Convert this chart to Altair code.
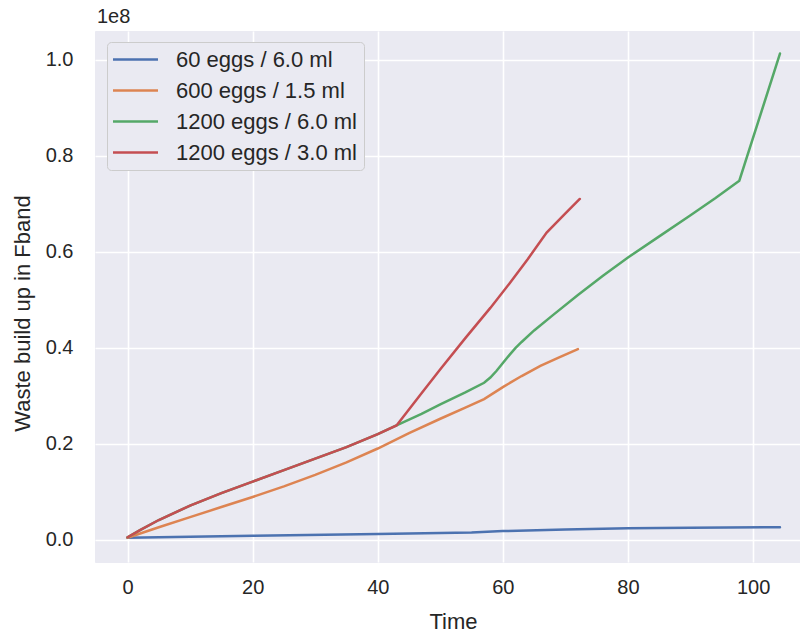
import altair as alt
import pandas as pd

FONT = "Liberation Sans"
TEXT = "#262626"

series_names = ["60 eggs / 6.0 ml", "600 eggs / 1.5 ml", "1200 eggs / 6.0 ml", "1200 eggs / 3.0 ml"]
series_colors = ["#4C72B0", "#DD8452", "#55A868", "#C44E52"]

# waste values are in units of 1e8
t_60 = [0, 20, 40, 55, 60, 70, 80, 90, 104.3]
w_60 = [0.004, 0.008, 0.012, 0.015, 0.018, 0.021, 0.024, 0.025, 0.026]

t_600 = [0, 5, 10, 15, 20, 25, 30, 35, 40, 45, 50, 54, 57, 60, 63, 66, 69, 72]
w_600 = [0.004, 0.026, 0.047, 0.068, 0.089, 0.111, 0.135, 0.161, 0.190, 0.222,
         0.252, 0.275, 0.293, 0.318, 0.341, 0.362, 0.380, 0.397]

t_shared = [0, 2, 5, 10, 15, 20, 25, 30, 35, 40, 43]
w_shared = [0.005, 0.020, 0.041, 0.071, 0.097, 0.121, 0.145, 0.169, 0.193, 0.220, 0.238]

t_1200_6 = t_shared + [47, 50, 54, 57, 58, 59, 60, 61, 62, 63, 65, 68, 72, 76, 80, 85, 90, 94,
                       97.8, 104.3]
w_1200_6 = w_shared + [0.262, 0.282, 0.307, 0.327, 0.338, 0.352, 0.368, 0.384, 0.399, 0.412,
                       0.436, 0.468, 0.510, 0.550, 0.588, 0.632, 0.676, 0.712, 0.748, 1.013]

t_1200_3 = t_shared + [47, 50, 54, 58, 61, 64, 67, 70, 72.3]
w_1200_3 = w_shared + [0.305, 0.355, 0.420, 0.483, 0.533, 0.585, 0.640, 0.680, 0.710]

x_ticks = [0, 20, 40, 60, 80, 100]
y_ticks = [0.0, 0.2, 0.4, 0.6, 0.8, 1.0]
offset_label = ["1e8"]

frames = []
for order, (name, t, w) in enumerate(zip(series_names,
                                         [t_60, t_600, t_1200_6, t_1200_3],
                                         [w_60, w_600, w_1200_6, w_1200_3])):
    frames.append(pd.DataFrame({"Time": t, "Waste": w, "series": name, "order": order}))
df = pd.concat(frames, ignore_index=True)

axis_common = dict(
    grid=True, gridColor="white", gridWidth=1.6,
    domain=False, ticks=False,
    labelFont=FONT, labelFontSize=20, labelColor=TEXT,
    titleFont=FONT, titleFontSize=22, titleFontWeight="normal", titleColor=TEXT,
)

lines = alt.Chart(df).mark_line(strokeWidth=2.5, strokeCap="round").encode(
    x=alt.X("Time:Q",
            scale=alt.Scale(domain=[-5.2, 107.5], nice=False, zero=False),
            axis=alt.Axis(values=x_ticks, format="d", labelPadding=15,
                          title="Time", titleX=358, titleY=66,
                          titleBaseline="alphabetic", **axis_common)),
    y=alt.Y("Waste:Q",
            scale=alt.Scale(domain=[-0.0465, 1.06], nice=False, zero=False),
            axis=alt.Axis(values=y_ticks, format=".1f", labelPadding=22,
                          title="Waste build up in Fband", titleX=-73, titleY=282,
                          titleAlign="center", titleBaseline="middle", titleAngle=270,
                          **axis_common)),
    color=alt.Color("series:N",
                    scale=alt.Scale(domain=series_names, range=series_colors),
                    legend=alt.Legend(title=None, orient="none", legendX=12, legendY=11,
                                      fillColor="#EAEAF2", strokeColor="#CCCCCC",
                                      cornerRadius=4, padding=6,
                                      symbolType="M-2.25,0L2.25,0", symbolSize=400,
                                      symbolStrokeWidth=2.5, symbolOffset=11,
                                      labelFont=FONT, labelFontSize=22, labelColor=TEXT,
                                      labelOffset=29, labelLimit=400, rowPadding=8)),
    detail="series:N",
    order=alt.Order("order:Q"),
)

# scientific offset label above the top-left corner of the axes
offset_text = alt.Chart(pd.DataFrame({"label": offset_label})).mark_text(
    align="left", baseline="alphabetic", font=FONT, fontSize=20, color=TEXT
).encode(x=alt.value(2), y=alt.value(-8), text="label:N")

chart = alt.layer(lines, offset_text).properties(
    width=705,
    height=531,
    autosize=alt.AutoSizeParams(type="none"),
    padding={"left": 95, "top": 31, "right": 0, "bottom": 70},
    background="white",
).configure_view(
    fill="#EAEAF2", stroke="#EAEAF2"
)

chart.save("out.html", embed_options={"renderer": "svg", "actions": False})
